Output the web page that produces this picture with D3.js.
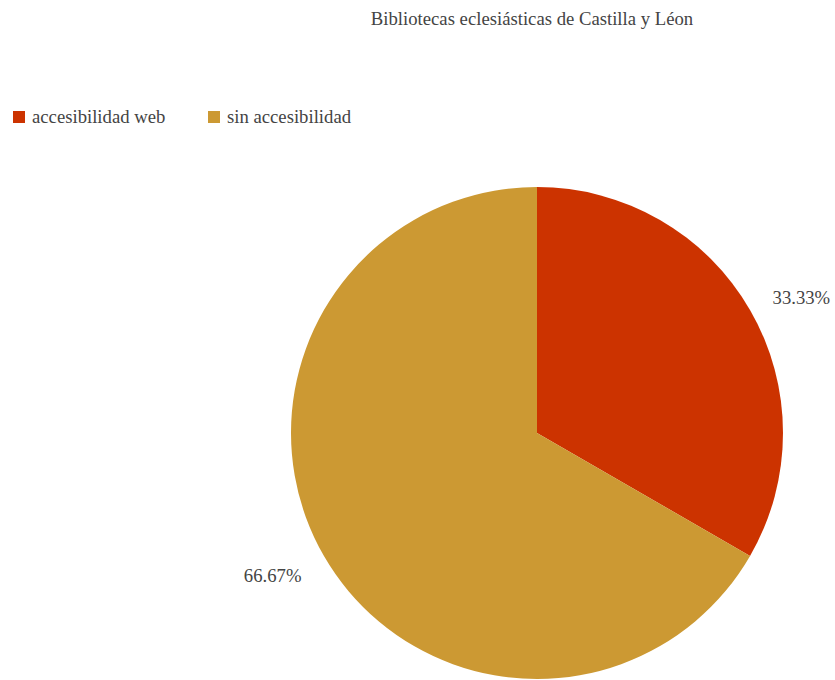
<!DOCTYPE html>
<html>
<head>
<meta charset="utf-8">
<script src="https://cdn.jsdelivr.net/npm/d3@7"></script>
<style>
  body { margin: 0; background: #fff; }
</style>
</head>
<body>
<div id="chart"></div>
<script>
const categories = ['accesibilidad web', 'sin accesibilidad'];
const values = [33.33, 66.67];
const colors = ['#cc3300', '#cc9933'];
const labels = ['33.33%', '66.67%'];

const width = 835, height = 680;
const cx = 537, cy = 433, radius = 246;
const font = '"Liberation Serif"';
const fontSize = '18.7px';

const svg = d3.select('#chart')
    .append('svg')
    .attr('width', width)
    .attr('height', height);

// title
svg.append('text')
    .attr('x', 532)
    .attr('y', 25)
    .attr('text-anchor', 'middle')
    .attr('fill', '#444')
    .style('font-family', font)
    .style('font-size', fontSize)
    .text('Bibliotecas eclesiásticas de Castilla y Léon');

// legend
const legendX = [13, 208];
const legend = svg.selectAll('.legend')
    .data(categories)
    .enter()
    .append('g')
    .attr('class', 'legend')
    .attr('transform', (d, i) => `translate(${legendX[i]},111)`);

legend.append('rect')
    .attr('width', 12)
    .attr('height', 12)
    .attr('fill', (d, i) => colors[i]);

legend.append('text')
    .attr('x', 19)
    .attr('y', 12)
    .attr('fill', '#444')
    .style('font-family', font)
    .style('font-size', fontSize)
    .text(d => d);

// pie
const pie = d3.pie().sort(null).value(d => d);
const arc = d3.arc().innerRadius(0).outerRadius(radius);
const labelArc = d3.arc().innerRadius(272).outerRadius(272);

const g = svg.append('g')
    .attr('transform', `translate(${cx},${cy})`);

const arcs = pie(values);

g.selectAll('path')
    .data(arcs)
    .enter()
    .append('path')
    .attr('d', arc)
    .attr('fill', (d, i) => colors[i]);

g.selectAll('.pct')
    .data(arcs)
    .enter()
    .append('text')
    .attr('class', 'pct')
    .attr('transform', d => {
        const [x, y] = labelArc.centroid(d);
        const nudge = y > 0 ? 6 : 0;
        return `translate(${x},${y + nudge})`;
    })
    .attr('dy', '0.35em')
    .attr('text-anchor', d => ((d.startAngle + d.endAngle) / 2 < Math.PI ? 'start' : 'end'))
    .attr('fill', '#444')
    .style('font-family', font)
    .style('font-size', fontSize)
    .text((d, i) => labels[i]);
</script>
</body>
</html>
